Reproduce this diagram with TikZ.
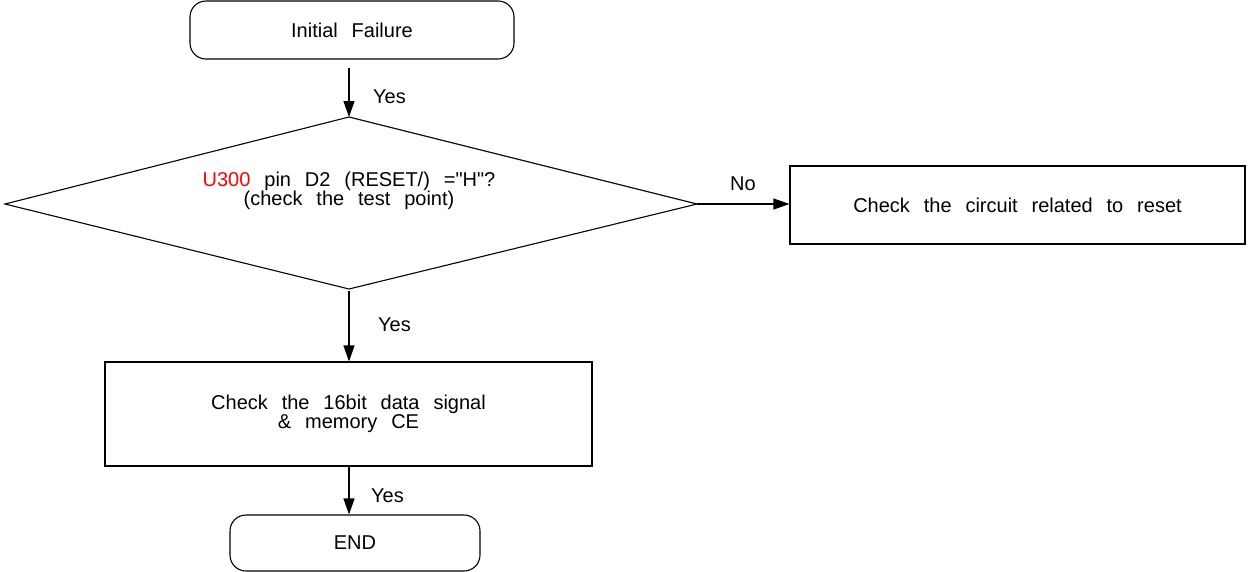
\documentclass[tikz,border=0pt]{standalone}
\usepackage{fontspec}
\setmainfont{Liberation Sans}[WordSpace=2.5]
\usetikzlibrary{arrows.meta}
\begin{document}
\begin{tikzpicture}[x=1pt,y=-1pt,
  every node/.style={font=\fontsize{20}{18.5}\selectfont, inner sep=0pt},
  term/.style={draw, line width=1.1pt, rounded corners=16pt, align=center},
  procbox/.style={draw, line width=1.1pt, align=center},
  flow/.style={line width=1.1pt, -{Triangle[length=16pt,width=11pt]}},
  lbl/.style={anchor=west}]
\useasboundingbox (0,0) rectangle (1255,571);
% terminals and boxes
\node[term, minimum width=324pt, minimum height=58pt] (init) at (352,30) {Initial Failure};
\coordinate (dT) at (349,117);
\coordinate (dL) at (5,204);
\coordinate (dR) at (697,204);
\coordinate (dB) at (349,289);
\draw[line width=1.1pt] (dT) -- (dR) -- (dB) -- (dL) -- cycle;
\node[align=center] (dtext) at (349,191) {\textcolor[rgb]{1,0,0}{U300} pin D2 (RESET/) =\textquotedbl H\textquotedbl ?\\(check the test point)};
\node[procbox, minimum width=455pt, minimum height=78pt] (reset) at (1017.5,205) {Check the circuit related to reset};
\node[procbox, minimum width=487pt, minimum height=104pt] (data) at (348.5,414) {Check the 16bit data signal\\\& memory CE};
\node[term, minimum width=250pt, minimum height=56pt] (endn) at (355,543) {END};
% connectors
\draw[flow, shorten <=8pt] (init.south -| dT) -- (dT);
\draw[flow] (dR) -- (dR -| reset.west);
\draw[flow, shorten <=2pt] (dB) -- (data.north -| dB);
\draw[flow] (data.south -| dT) -- (endn.north -| dT);
% labels
\node[lbl] (y1) at (373,97) {Yes};
\node (no) at (743,184) {No};
\node[lbl] (y2) at (378,325) {Yes};
\node[lbl] (y3) at (371,496) {Yes};
\end{tikzpicture}
\end{document}
